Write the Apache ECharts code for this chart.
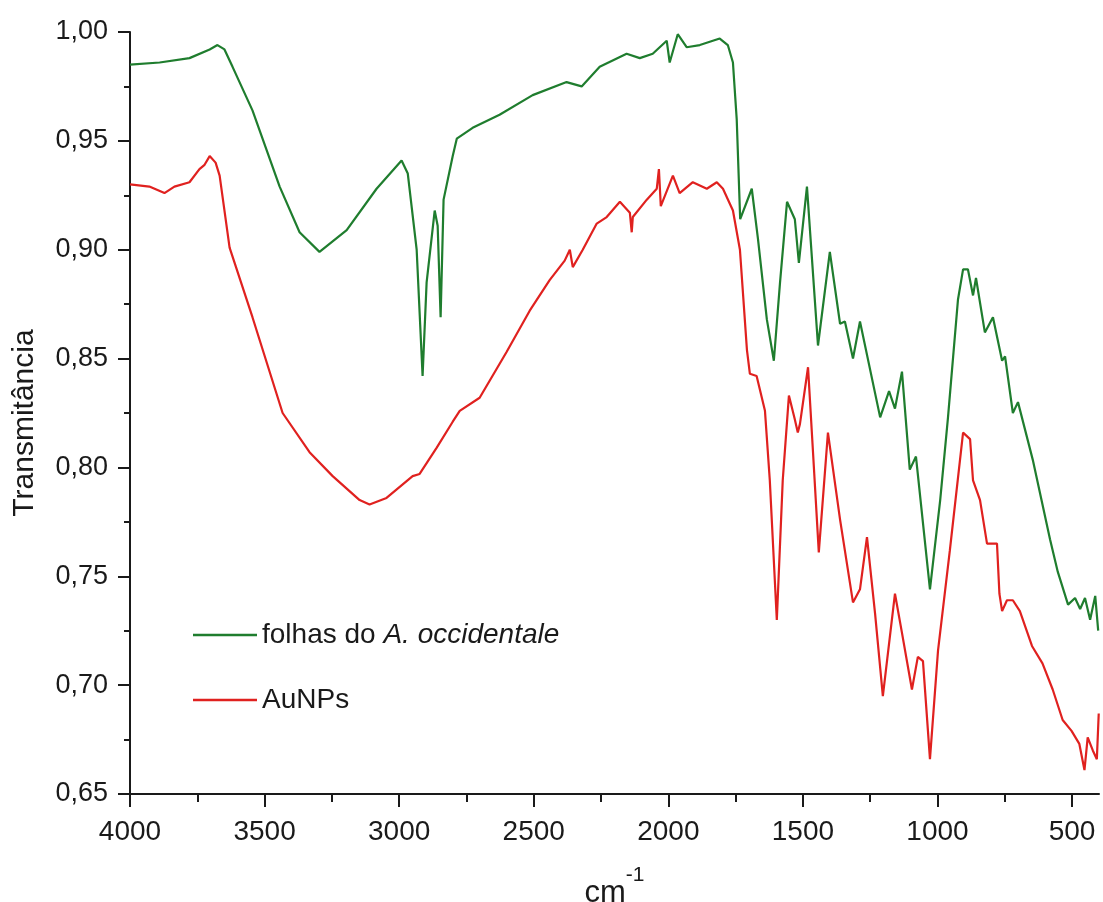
<!DOCTYPE html>
<html>
<head>
<meta charset="utf-8">
<script src="https://cdn.jsdelivr.net/npm/echarts@6/dist/echarts.min.js"></script>
<style>
  html, body { margin: 0; padding: 0; background: #fff; }
  #myChart { width: 1103px; height: 902px; }
</style>
</head>
<body>
<div id="myChart"></div>
<script>
// espectros FTIR (número de onda em cm-1, transmitância)
const folhasWavenumber = [4000, 3890, 3779, 3704, 3675, 3649, 3619, 3545, 3444, 3370, 3296, 3195, 3084, 2991, 2968, 2935, 2913, 2898, 2868, 2857, 2846, 2835, 2801, 2786, 2727, 2627, 2504, 2378, 2322, 2255, 2155, 2106, 2058, 2006, 1995, 1965, 1932, 1883, 1809, 1779, 1760, 1746, 1733, 1690, 1667, 1634, 1608, 1585, 1559, 1530, 1515, 1485, 1444, 1400, 1362, 1344, 1314, 1288, 1213, 1180, 1158, 1132, 1103, 1080, 1028, 990, 961, 924, 905, 887, 868, 857, 824, 794, 760, 749, 720, 701, 645, 582, 553, 515, 489, 470, 452, 433, 414, 403]
const folhasT = [0.985, 0.986, 0.988, 0.992, 0.994, 0.992, 0.984, 0.964, 0.929, 0.908, 0.899, 0.909, 0.928, 0.941, 0.935, 0.900, 0.842, 0.885, 0.918, 0.911, 0.869, 0.923, 0.943, 0.951, 0.956, 0.962, 0.971, 0.977, 0.975, 0.984, 0.990, 0.988, 0.990, 0.996, 0.986, 0.999, 0.993, 0.994, 0.997, 0.994, 0.986, 0.960, 0.914, 0.928, 0.905, 0.868, 0.849, 0.885, 0.922, 0.914, 0.894, 0.929, 0.856, 0.899, 0.866, 0.867, 0.850, 0.867, 0.823, 0.835, 0.827, 0.844, 0.799, 0.805, 0.744, 0.785, 0.823, 0.877, 0.891, 0.891, 0.879, 0.887, 0.862, 0.869, 0.849, 0.851, 0.825, 0.830, 0.803, 0.767, 0.752, 0.737, 0.740, 0.735, 0.740, 0.730, 0.741, 0.725]

const aunpsWavenumber = [4000, 3928, 3872, 3835, 3779, 3742, 3723, 3704, 3682, 3667, 3630, 3545, 3433, 3333, 3247, 3147, 3110, 3047, 2950, 2924, 2861, 2801, 2775, 2701, 2601, 2515, 2441, 2385, 2366, 2355, 2318, 2266, 2229, 2180, 2143, 2136, 2132, 2080, 2043, 2035, 2028, 1983, 1958, 1909, 1857, 1820, 1797, 1760, 1734, 1708, 1697, 1672, 1641, 1623, 1597, 1575, 1552, 1530, 1519, 1511, 1481, 1463, 1441, 1407, 1362, 1314, 1288, 1262, 1232, 1203, 1158, 1132, 1095, 1073, 1054, 1028, 998, 954, 905, 879, 868, 842, 816, 779, 770, 760, 742, 720, 694, 649, 610, 572, 535, 502, 473, 454, 442, 423, 408, 401]
const aunpsT = [0.930, 0.929, 0.926, 0.929, 0.931, 0.937, 0.939, 0.943, 0.940, 0.934, 0.901, 0.869, 0.825, 0.807, 0.796, 0.785, 0.783, 0.786, 0.796, 0.797, 0.809, 0.821, 0.826, 0.832, 0.853, 0.872, 0.886, 0.895, 0.900, 0.892, 0.900, 0.912, 0.915, 0.922, 0.917, 0.908, 0.915, 0.923, 0.928, 0.937, 0.920, 0.934, 0.926, 0.931, 0.928, 0.931, 0.928, 0.918, 0.900, 0.854, 0.843, 0.842, 0.826, 0.794, 0.730, 0.794, 0.833, 0.822, 0.816, 0.820, 0.846, 0.808, 0.761, 0.816, 0.776, 0.738, 0.744, 0.768, 0.733, 0.695, 0.742, 0.724, 0.698, 0.713, 0.711, 0.666, 0.716, 0.762, 0.816, 0.813, 0.794, 0.785, 0.765, 0.765, 0.742, 0.734, 0.739, 0.739, 0.734, 0.718, 0.710, 0.698, 0.684, 0.679, 0.673, 0.661, 0.676, 0.670, 0.666, 0.687]

const seriesNames = ['folhas do A. occidentale', 'AuNPs']
const xTicks = [4000, 3500, 3000, 2500, 2000, 1500, 1000, 500]
const xMinorTicks = [3750, 3250, 2750, 2250, 1750, 1250, 750]

const font = 'Liberation Sans, Arial, sans-serif'
const ink = '#1a1a1a'

function pairs(xs, ys) {
  let out = []
  for (let i = 0; i < xs.length; i++) {
    out.push([xs[i], ys[i]])
  }
  return out
}

let myChart = echarts.init(document.getElementById('myChart'))
myChart.setOption({
  animation: false,
  backgroundColor: '#fff',
  grid: { left: 130, right: 4, top: 32, bottom: 108, outerBoundsMode: 'none', containLabel: false },
  legend: {
    orient: 'vertical',
    left: 188,
    top: 616,
    icon: 'rect',
    itemWidth: 64,
    itemHeight: 2.5,
    itemGap: 37,
    data: seriesNames,
    textStyle: {
      fontFamily: font,
      fontSize: 28,
      color: ink,
      lineHeight: 28,
      rich: {
        i: { fontFamily: font, fontSize: 28, fontStyle: 'italic', color: ink },
      },
    },
    formatter: function (name) {
      if (name === seriesNames[0]) return 'folhas do {i|A. occidentale}'
      return name
    },
  },
  xAxis: [
    {
      type: 'value',
      inverse: true,
      min: 400,
      max: 4000,
      name: '{a|cm}{b|-1}',
      nameLocation: 'middle',
      nameGap: 71,
      nameTextStyle: {
        rich: {
          a: { fontFamily: font, fontSize: 31, color: ink, lineHeight: 44, verticalAlign: 'bottom' },
          b: { fontFamily: font, fontSize: 21, color: ink, lineHeight: 10, verticalAlign: 'top' },
        },
      },
      axisLine: { lineStyle: { color: ink, width: 2 } },
      axisTick: { customValues: xTicks, length: 13, lineStyle: { color: ink, width: 2 } },
      axisLabel: {
        customValues: xTicks,
        margin: 24,
        fontFamily: font,
        fontSize: 28,
        color: ink,
        formatter: function (v) {
          return String(v)
        },
      },
      splitLine: { show: false },
    },
    {
      // só os traços menores do eixo x
      type: 'value',
      inverse: true,
      min: 400,
      max: 4000,
      position: 'bottom',
      axisLine: { show: false },
      axisTick: { customValues: xMinorTicks, length: 8, lineStyle: { color: ink, width: 2 } },
      axisLabel: { show: false },
      splitLine: { show: false },
    },
  ],
  yAxis: {
    type: 'value',
    min: 0.65,
    max: 1.0,
    interval: 0.05,
    name: 'Transmitância',
    nameLocation: 'middle',
    nameGap: 90,
    nameTextStyle: { fontFamily: font, fontSize: 30, color: ink, padding: [0, 20, 0, 0] },
    axisLine: { show: true, lineStyle: { color: ink, width: 2 } },
    axisTick: { show: true, length: 12, lineStyle: { color: ink, width: 2 } },
    minorTick: { show: true, splitNumber: 2, length: 6, lineStyle: { color: ink, width: 2 } },
    axisLabel: {
      margin: 22,
      fontFamily: font,
      fontSize: 27,
      color: ink,
      formatter: function (v) {
        return v.toFixed(2).replace('.', ',')
      },
    },
    splitLine: { show: false },
  },
  series: [
    {
      name: seriesNames[0],
      type: 'line',
      symbol: 'none',
      data: pairs(folhasWavenumber, folhasT),
      lineStyle: { color: '#1f7d2e', width: 2.2 },
      itemStyle: { color: '#1f7d2e' },
    },
    {
      name: seriesNames[1],
      type: 'line',
      symbol: 'none',
      data: pairs(aunpsWavenumber, aunpsT),
      lineStyle: { color: '#e0211f', width: 2.2 },
      itemStyle: { color: '#e0211f' },
    },
  ],
})
</script>
</body>
</html>
